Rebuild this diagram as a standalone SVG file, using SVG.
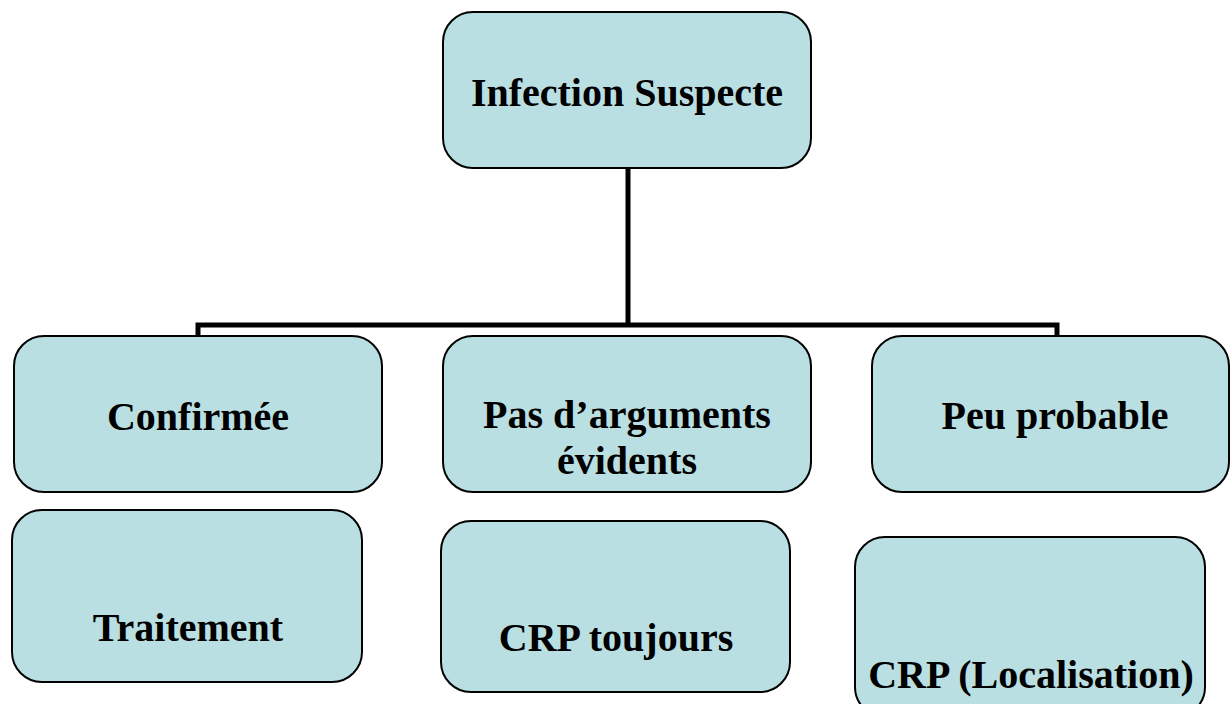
<svg xmlns="http://www.w3.org/2000/svg" width="1230" height="704" viewBox="0 0 1230 704">
<style>
.box{fill:#b9dfe2;stroke:#000;stroke-width:2}
.t{font-family:"Liberation Serif","Times New Roman",serif;font-weight:bold;font-size:40px;fill:#000;text-anchor:middle}
.c{fill:none;stroke:#000;stroke-width:5}
</style>
<rect width="1230" height="704" fill="#fff"/>
<g id="connectors">
<path class="c" d="M628 168 V325 M198 336 V325 H1057 V336"/>
</g>
<g id="n-infection"><rect class="box" x="443" y="12" width="368" height="156" rx="30"/><text class="t" x="627" y="106">Infection Suspecte</text></g>
<g id="n-confirmee"><rect class="box" x="14" y="336" width="368" height="156" rx="30"/><text class="t" x="198" y="430">Confirmée</text></g>
<g id="n-pas"><rect class="box" x="443" y="336" width="368" height="156" rx="30"/><text class="t" x="627" y="428">Pas d’arguments</text><text class="t" x="627" y="474">évidents</text></g>
<g id="n-peu"><rect class="box" x="872" y="336" width="357" height="156" rx="30"/><text class="t" x="1055" y="429">Peu probable</text></g>
<g id="n-traitement"><rect class="box" x="12" y="510" width="350" height="172" rx="30"/><text class="t" x="188" y="641">Traitement</text></g>
<g id="n-crp"><rect class="box" x="441" y="521" width="349" height="171" rx="30"/><text class="t" x="616" y="651">CRP toujours</text></g>
<g id="n-crploc"><rect class="box" x="855" y="537" width="350" height="180" rx="30"/><text class="t" x="1031" y="688">CRP (Localisation)</text></g>
</svg>
